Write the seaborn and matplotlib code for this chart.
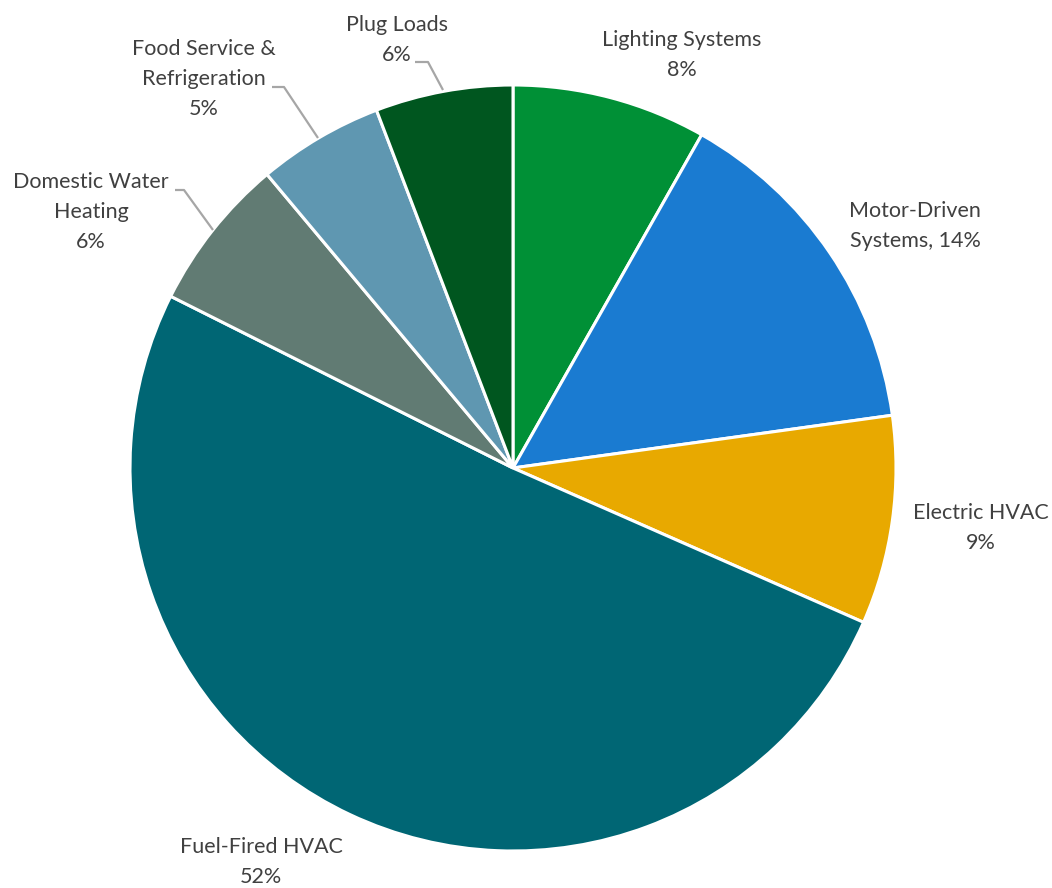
import matplotlib
matplotlib.use("Agg")
import matplotlib.pyplot as plt
import seaborn as sns

categories = ["Lighting Systems", "Motor-Driven Systems", "Electric HVAC", "Fuel-Fired HVAC",
              "Domestic Water Heating", "Food Service & Refrigeration", "Plug Loads"]
values = [8.2, 14.6, 8.8, 50.8, 6.5, 5.3, 5.8]
label_texts = ["Lighting Systems\n8%", "Motor-Driven\nSystems, 14%", "Electric HVAC\n9%",
               "Fuel-Fired HVAC\n52%", "Domestic Water\nHeating\n6%",
               "Food Service &\nRefrigeration\n5%", "Plug Loads\n6%"]
colors = ["#009036", "#1a7bd1", "#e8a900", "#006674", "#617b73", "#5f97b1", "#00561f"]

sns.set_theme(style="white")
plt.rcParams['font.family'] = ['Lato', 'DejaVu Sans']

W, H = 1052, 888
fig = plt.figure(figsize=(W / 100, H / 100), dpi=100)
ax = fig.add_axes([0, 0, 1, 1])

cx, cy, r = 513, H - 468, 383
ax.pie(values, colors=colors, startangle=90, counterclock=False,
       center=(cx, cy), radius=r,
       wedgeprops=dict(edgecolor="white", linewidth=2.2))
ax.set_xlim(0, W)
ax.set_ylim(0, H)
ax.set_aspect("auto")
ax.axis("off")

# label positions in pixel coords (x, y of block center) and leaders
label_pos = [(682, 55), (915, 226), (981, 528), (261, 862), (91, 212), (204, 79), (397, 40)]
txt_color = "#404040"
for t, (x, y) in zip(label_texts, label_pos):
    ax.text(x, H - y, t, ha="center", va="center", fontsize=15.5, color=txt_color,
            linespacing=1.62)

leaders = [
    [(415, 62), (428, 62), (443, 90)],
    [(272, 87), (284, 87), (318, 138)],
    [(175, 190), (184, 190), (213, 230)],
]
for pts in leaders:
    xs = [p[0] for p in pts]
    ys = [H - p[1] for p in pts]
    ax.plot(xs, ys, color="#a6a6a6", linewidth=1.6, solid_capstyle="butt")

fig.savefig("out.png", dpi=100, facecolor="white")
